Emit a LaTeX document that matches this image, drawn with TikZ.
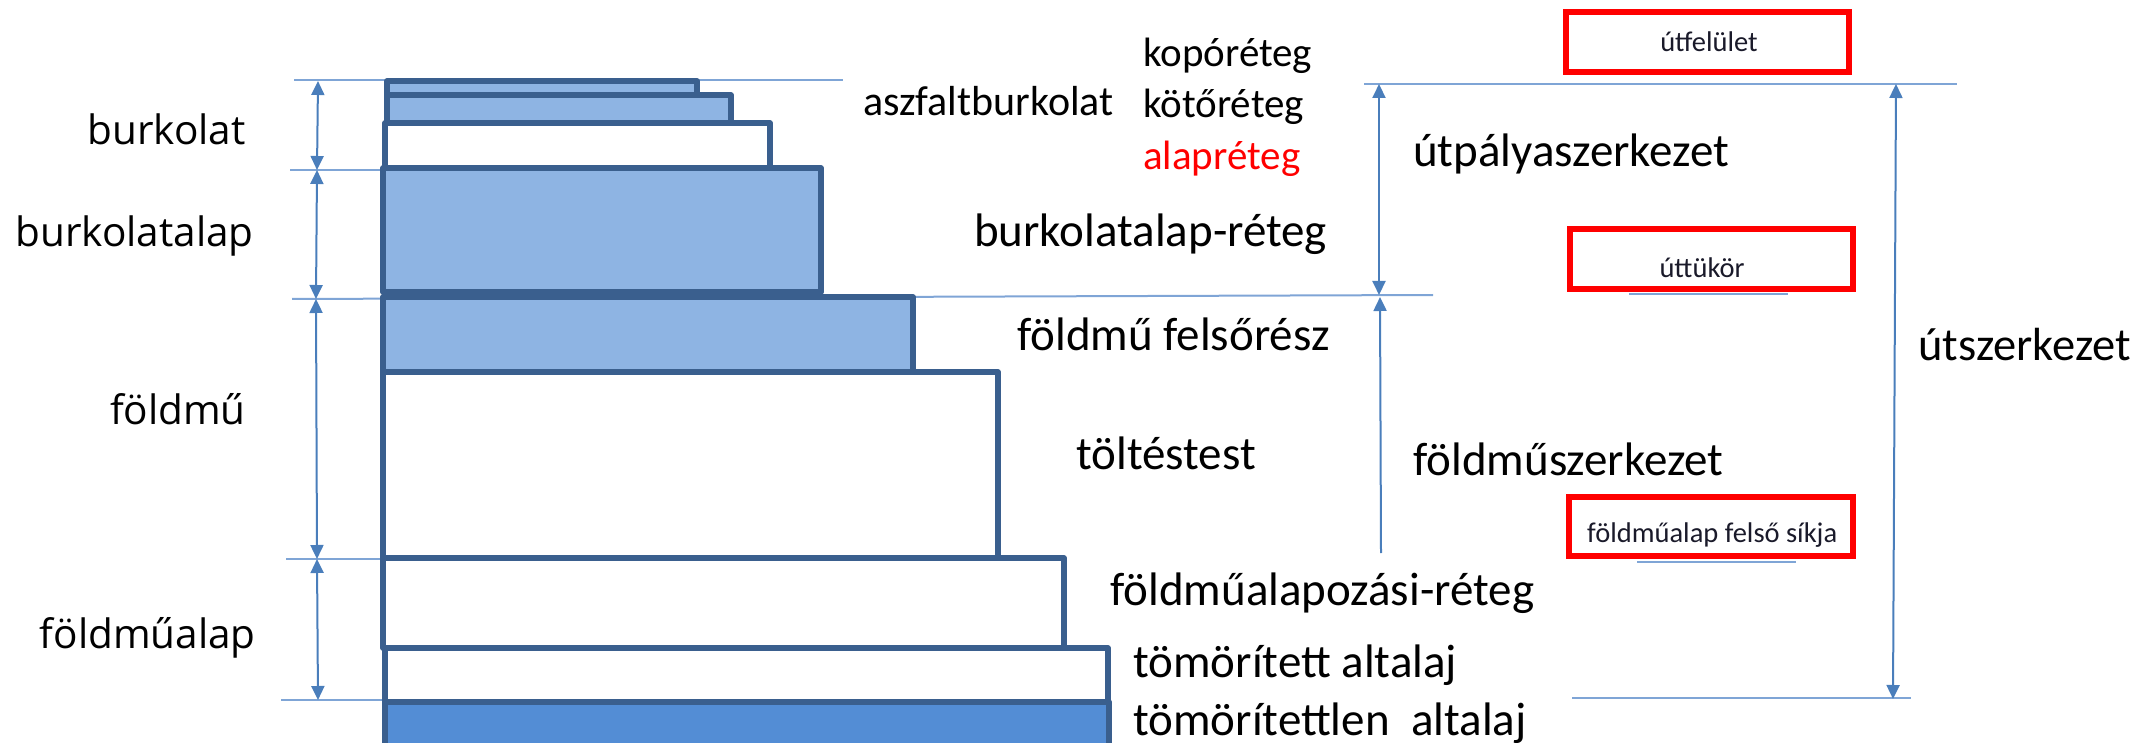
\documentclass[tikz,border=0pt]{standalone}
\usepackage{fontspec}
\setmainfont{Carlito}
\newfontfamily\opensans{Open Sans}
\usetikzlibrary{arrows.meta}
\definecolor{layborder}{HTML}{3A5F8E}
\definecolor{layfill}{HTML}{8EB4E3}
\definecolor{layfilldark}{HTML}{538DD5}
\definecolor{refblue}{HTML}{7FA5D6}
\definecolor{arrblue}{HTML}{4A7EBB}
\definecolor{boxred}{HTML}{FF0000}
\definecolor{boxtext}{HTML}{1A1A2A}
\tikzset{
  lay/.style={draw=layborder, line width=5.5pt, line join=round},
  refl/.style={draw=refblue, line width=2pt},
  dim/.style={draw=arrblue, line width=2pt, {Triangle[width=13pt,length=14pt]}-{Triangle[width=13pt,length=14pt]}},
  dimup/.style={draw=arrblue, line width=2pt, {Triangle[width=13pt,length=14pt]}-},
  lbl/.style={inner sep=0pt, anchor=base west, font=\fontsize{47}{56}\selectfont},
  lbls/.style={inner sep=0pt, anchor=base west, font=\fontsize{41}{50}\selectfont},
  lblleft/.style={inner sep=0pt, anchor=base east, font=\opensans\fontsize{40.5}{50}\selectfont},
  redbox/.style={draw=boxred, line width=6pt},
  boxlbl/.style={inner sep=0pt, anchor=base, text=boxtext, font=\fontsize{28.5}{34}\selectfont},
}
\begin{document}
\begin{tikzpicture}[x=1pt,y=-1pt]
\useasboundingbox (0,0) rectangle (2142,743);
\clip (0,0) rectangle (2142,743);

% reference lines (left)
\coordinate (h0a) at (294,80);   \coordinate (h0b) at (843,80);
\coordinate (h1a) at (290,170);  \coordinate (h1b) at (490,170);
\coordinate (h2a) at (292,299);  \coordinate (h2b) at (1433,295);
\coordinate (h3a) at (286,559);  \coordinate (h3b) at (500,559);
\coordinate (h4a) at (281,700);  \coordinate (h4b) at (390,700);
\draw[refl] (h0a) -- (h0b);
\draw[refl] (h1a) -- (h1b);
\draw[refl] (h2a) -- (h2b);
\draw[refl] (h3a) -- (h3b);
\draw[refl] (h4a) -- (h4b);
% reference lines (right)
\coordinate (t0a) at (1364,84);  \coordinate (t0b) at (1957,84);
\coordinate (u0a) at (1629,294); \coordinate (u0b) at (1788,294);
\coordinate (f0a) at (1637,562); \coordinate (f0b) at (1796,562);
\coordinate (b0a) at (1572,698); \coordinate (b0b) at (1911,698);
\draw[refl] (t0a) -- (t0b);
\draw[refl] (u0a) -- (u0b);
\draw[refl] (f0a) -- (f0b);
\draw[refl] (b0a) -- (b0b);

% layers
\draw[lay, fill=layfill]     (387,81)  rectangle (697,95);
\draw[lay, fill=layfill]     (387,95)  rectangle (731,123);
\draw[lay, fill=white]       (385,123) rectangle (770,168);
\draw[lay, fill=layfill]     (383,168) rectangle (821,292);
\draw[lay, fill=layfill]     (383,297) rectangle (913,372);
\draw[lay, fill=white]       (383,372) rectangle (998,558);
\draw[lay, fill=white]       (383,558) rectangle (1064,648);
\draw[lay, fill=white]       (385,648) rectangle (1108,702);
\draw[lay, fill=layfilldark] (385,702) rectangle (1109,760);

% left dimension arrows
\coordinate (a0) at (318,81);
\coordinate (a1) at (317,170);
\coordinate (a2) at (316,299);
\coordinate (a3) at (317,559);
\coordinate (a4) at (318,700);
\draw[dim] (a0) -- (a1);
\draw[dim] (a1) -- (a2);
\draw[dim] (a2) -- (a3);
\draw[dim] (a3) -- (a4);

% right dimension arrows
\coordinate (r0) at (1379,84);
\coordinate (r1) at (1379,295);
\coordinate (r1b) at (1380,297);
\coordinate (r2) at (1381,553);
\draw[dim] (r0) -- (r1);
\draw[dimup] (r1b) -- (r2);
\coordinate (s0) at (1896,84);
\coordinate (s1) at (1893,699);
\draw[dim] (s0) -- (s1);

% left labels
\node[lblleft] (burkolat) at (246,145) {burkolat};
\node[lblleft] (burkolatalap) at (254,247) {burkolatalap};
\node[lblleft] (foldmu) at (246,424) {földmű};
\node[lblleft] (foldmualap) at (256,648) {földműalap};

% middle labels
\node[lbls] (kopo) at (1143,67) {kopóréteg};
\node[lbls, font=\fontsize{42}{50}\selectfont] (aszfalt) at (863,116) {aszfaltburkolat};
\node[lbls] (koto) at (1143,118) {kötőréteg};
\node[lbls, text=boxred] (alap) at (1143,170) {alapréteg};
\node[lbl] (bka) at (974,247) {burkolatalap-réteg};
\node[lbl] (ffr) at (1017,350) {földmű felsőrész};
\node[lbl] (tt) at (1076,469) {töltéstest};
\node[lbl] (far) at (1110,605) {földműalapozási-réteg};
\node[lbl] (ta) at (1133,677) {tömörített altalaj};
\node[lbl] (tta) at (1133,735) {tömörítettlen\ \ altalaj};

% right labels
\node[lbl] (utp) at (1413,167) {útpályaszerkezet};
\node[lbl] (fsz) at (1413,475) {földműszerkezet};
\node[lbl, font=\fontsize{46.5}{56}\selectfont] (usz) at (1918,360) {útszerkezet};

% red boxes
\draw[redbox] (1566,12) rectangle (1849,72);
\node[boxlbl] (utf) at (1709,52) {útfelület};
\draw[redbox] (1570,229) rectangle (1853,289);
\node[boxlbl] (utt) at (1702,278) {úttükör};
\draw[redbox] (1569,497) rectangle (1853,556);
\node[boxlbl, anchor=base west] (fas) at (1587,542) {földműalap felső síkja};
\end{tikzpicture}
\end{document}
